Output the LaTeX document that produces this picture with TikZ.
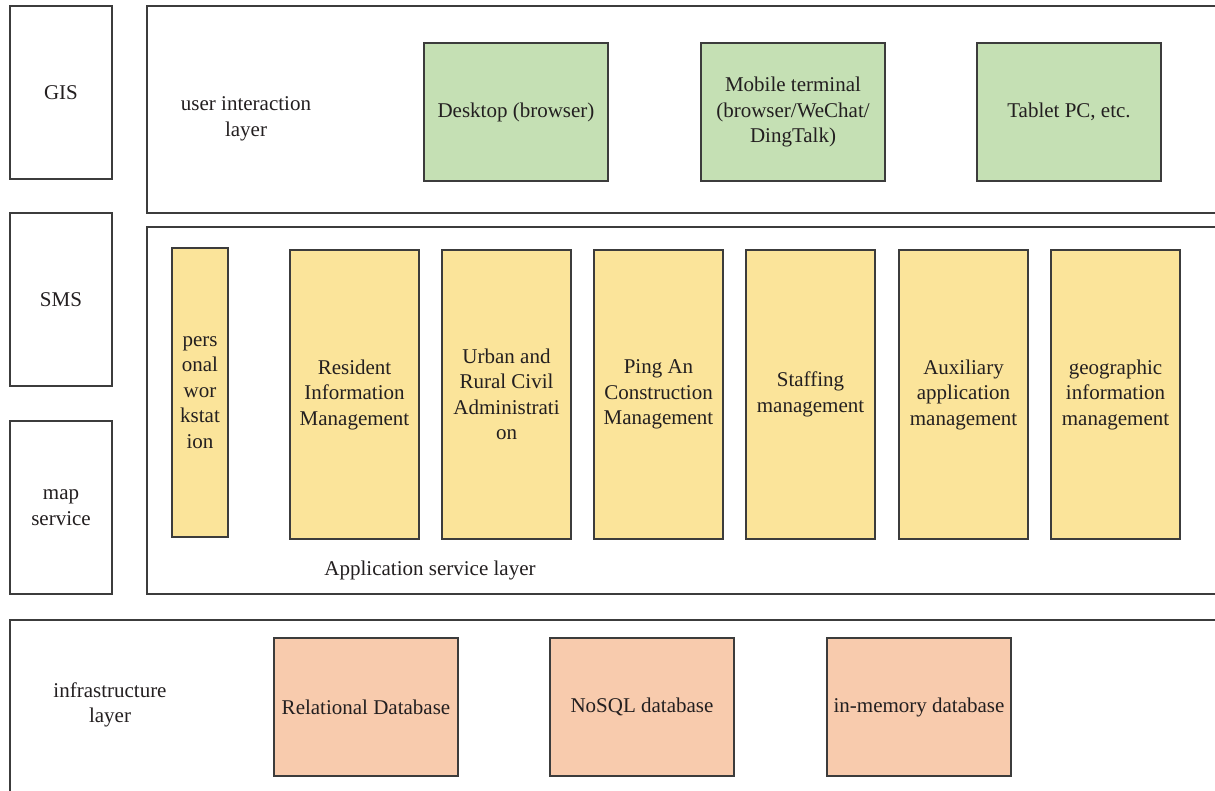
\documentclass[tikz,border=0pt]{standalone}
\usepackage{fontspec}
\setmainfont{Liberation Serif}
\definecolor{edge}{HTML}{3C3C3C}
\definecolor{txt}{HTML}{231F20}
\definecolor{gfill}{HTML}{C5E0B4}
\definecolor{yfill}{HTML}{FBE49A}
\definecolor{ofill}{HTML}{F8CBAD}
\tikzset{
  frame/.style={draw=edge, line width=1.3pt, fill=white},
  cell/.style={draw=edge, line width=1.3pt, anchor=north west, inner sep=0pt, outer sep=0pt,
    align=center, text=txt, font=\fontsize{21}{25.5}\selectfont},
  gbox/.style={cell, fill=gfill, minimum width=184pt, minimum height=138pt},
  ybox/.style={cell, fill=yfill, minimum width=129pt, minimum height=289pt},
  obox/.style={cell, fill=ofill, minimum width=184pt, minimum height=138pt},
  sidebox/.style={cell, fill=white, minimum width=102pt, minimum height=173pt},
  lbl/.style={text=txt, align=center, font=\fontsize{21}{25.5}\selectfont, inner sep=0pt}
}
\begin{document}
\begin{tikzpicture}[x=1pt,y=-1pt]
\useasboundingbox (0,0) rectangle (1215,790);
\clip (0,0) rectangle (1215,790);
% side boxes
\node[sidebox] (gis) at (10,6) {GIS};
\node[sidebox] (sms) at (10,213) {SMS};
\node[sidebox] (map) at (10,421) {map\\service};
% layer frames
\draw[frame] (147,6) rectangle (1240,213);
\draw[frame] (147,227) rectangle (1240,594);
\draw[frame] (10,620) rectangle (1240,820);
% layer labels
\node[lbl] (uil) at (246,119) {user interaction\\layer};
\node[lbl] (asl) at (430,570) {Application service layer};
\node[lbl] (ifl) at (110,705) {infrastructure\\layer};
% user interaction layer
\node[gbox] (desk) at (424,43) {Desktop (browser)};
\node[gbox] (mob) at (701,43) {Mobile terminal\\(browser/WeChat/\\DingTalk)};
\node[gbox] (tab) at (977,43) {Tablet PC, etc.};
% application service layer
\node[ybox, minimum width=56pt] (pw) at (172,248) {pers\\onal\\wor\\kstat\\ion};
\node[ybox] (rim) at (290,250) {Resident\\Information\\Management};
\node[ybox] (urc) at (442,250) {Urban and\\Rural Civil\\Administrati\\on};
\node[ybox] (pac) at (594,250) {Ping An\\Construction\\Management};
\node[ybox] (stf) at (746,250) {Staffing\\management};
\node[ybox] (aux) at (899,250) {Auxiliary\\application\\management};
\node[ybox] (geo) at (1051,250) {geographic\\information\\management};
% infrastructure layer
\node[obox] (rel) at (274,638) {Relational Database};
\node[obox] (nos) at (550,638) {NoSQL database};
\node[obox] (mem) at (827,638) {in-memory database};
\end{tikzpicture}
\end{document}
